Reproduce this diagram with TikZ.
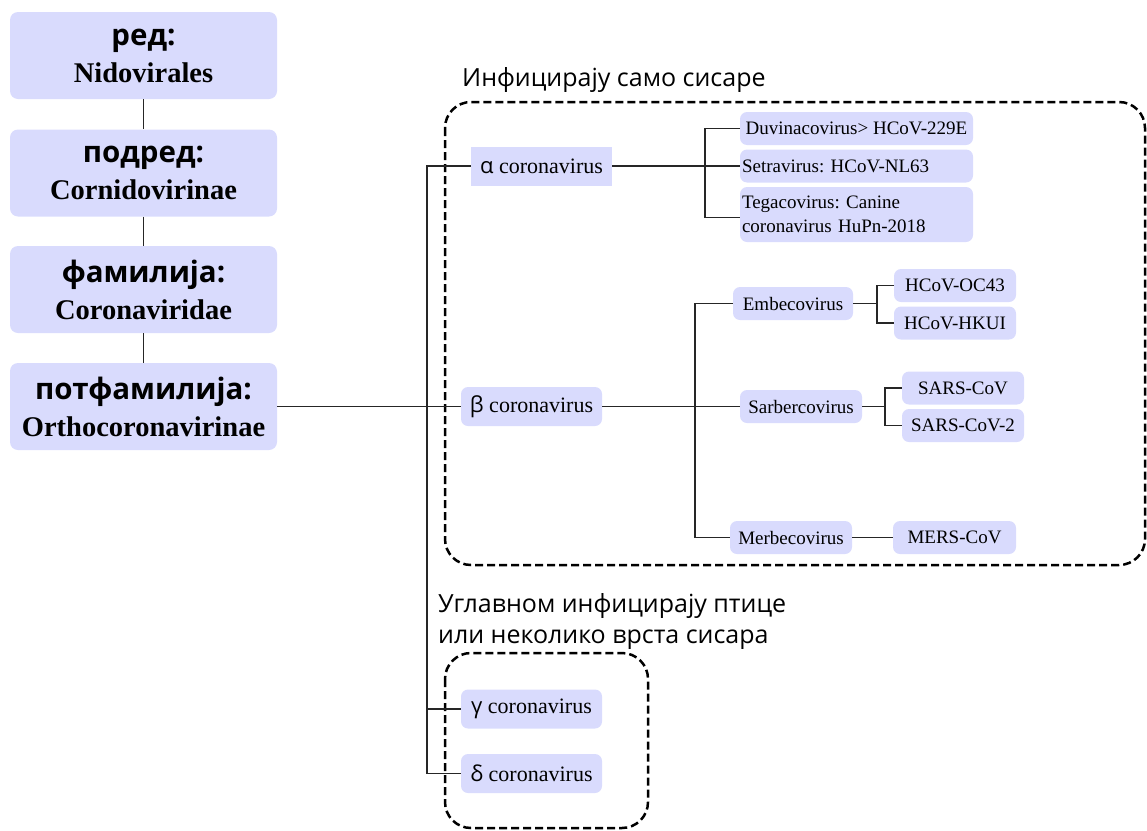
\documentclass[tikz,border=0pt]{standalone}
\usepackage{fontspec}
\setmainfont{Liberation Serif}
\newfontfamily\cyrsans{Open Sans}
\usepackage{tikz}
\usetikzlibrary{positioning,calc}
\definecolor{boxfill}{HTML}{D9DBFD}
\definecolor{linegray}{HTML}{262626}
\frenchspacing

\begin{document}
\begin{tikzpicture}[x=1pt, y=-1pt,
    rankbox/.style={fill=boxfill, rounded corners=8pt, minimum width=267pt, minimum height=87pt,
      inner sep=0pt, align=center, font=\fontsize{28.5}{37}\selectfont\bfseries},
    genbox/.style={fill=boxfill, rounded corners=7pt, minimum width=141pt, minimum height=39pt,
      inner sep=0pt, font=\fontsize{22}{26}\selectfont},
    virbox/.style={fill=boxfill, rounded corners=7pt, minimum height=33pt,
      inner sep=0pt, font=\fontsize{19}{24.5}\selectfont},
    link/.style={draw=linegray, line width=1.6pt},
    groupframe/.style={draw=black, line width=2.5pt, dash pattern=on 8pt off 4pt, rounded corners=26pt},
    grouplabel/.style={font=\cyrsans\fontsize{25}{31}\selectfont, align=left, inner sep=0pt}]
    \useasboundingbox (0,0) rectangle (1147,830);
    % taxonomic ranks
    \node[rankbox] (order) at (143.5,55.5) {{\cyrsans\fontsize{29.5}{30}\selectfont ред:}\\Nidovirales};
    \node[rankbox] (suborder) at (143.5,173) {{\cyrsans\fontsize{29.5}{30}\selectfont подред:}\\Cornidovirinae};
    \node[rankbox] (family) at (143.5,289.5) {{\cyrsans\fontsize{29.5}{30}\selectfont фамилија:}\\Coronaviridae};
    \node[rankbox] (subfamily) at (143.5,406.5) {{\cyrsans\fontsize{29.5}{30}\selectfont потфамилија:}\\Orthocoronavirinae};
    \draw[link] (order) -- (suborder);
    \draw[link] (suborder) -- (family);
    \draw[link] (family) -- (subfamily);
    % group frames
    \draw[groupframe] (445,102) rectangle (1145,565);
    \draw[groupframe] (445,653) rectangle (648,828);
    \node[grouplabel, anchor=west] (mammals) at (462,80) {Инфицирају само сисаре};
    \node[grouplabel, anchor=north west] (birds) at (438,593) {Углавном инфицирају птице\\или неколико врста сисара};
    % genera
    \node[genbox, rounded corners=0pt] (alpha) at (541.5,166) {{\cyrsans α} \rmfamily coronavirus};
    \node[genbox] (beta) at (531.5,406.5) {{\cyrsans β} \rmfamily coronavirus};
    \node[genbox] (gamma) at (531.5,709) {{\cyrsans γ} \rmfamily coronavirus};
    \node[genbox] (delta) at (531.5,773.5) {{\cyrsans δ} \rmfamily coronavirus};
    \coordinate (trunk) at (427,0);
    \draw[link] (alpha.west) -- (alpha.west -| trunk) -- (delta.west -| trunk) -- (delta.west);
    \draw[link] (gamma.west -| trunk) -- (gamma.west);
    \draw[link] (subfamily.east) -- (beta.west);
    % alpha coronavirus
    \node[virbox, minimum width=233pt] (duvina) at (856.5,128.5) {Duvinacovirus> HCoV-229E};
    \node[virbox, minimum width=233pt, text width=229pt, align=left] (setra) at (856.5,166) {Setravirus: HCoV-NL63};
    \node[virbox, minimum width=233pt, minimum height=55pt, text width=229pt, align=left] (tega) at (856.5,214.5) {Tegacovirus: Canine\\coronavirus HuPn-2018};
    \coordinate (afork) at (705,0);
    \draw[link] (alpha.east) -- (setra.west);
    \draw[link] (duvina.west) -- (duvina.west -| afork) -- ([yshift=-3pt]tega.west -| afork) -- ([yshift=-3pt]tega.west);
    % beta coronavirus
    \node[virbox, minimum width=120pt] (embe) at (793,303.5) {Embecovirus};
    \node[virbox, minimum width=122pt] (sarbe) at (801,406.5) {Sarbercovirus};
    \node[virbox, minimum width=122pt] (merbe) at (791,537.5) {Merbecovirus};
    \node[virbox, minimum width=122pt] (oc43) at (955,285.5) {HCoV-OC43};
    \node[virbox, minimum width=122pt] (hkui) at (955,323) {HCoV-HKUI};
    \node[virbox, minimum width=122pt] (sars) at (963,388) {SARS-CoV};
    \node[virbox, minimum width=122pt] (sars2) at (963,425.5) {SARS-CoV-2};
    \node[virbox, minimum width=123pt] (mers) at (954.5,537.5) {MERS-CoV};
    \coordinate (bfork) at (695,0);
    \coordinate (efork) at (877,0);
    \coordinate (sfork) at (885,0);
    \draw[link] (beta.east) -- (sarbe.west);
    \draw[link] (embe.west) -- (embe.west -| bfork) -- (merbe.west -| bfork) -- (merbe.west);
    \draw[link] (embe.east) -- (embe.east -| efork);
    \draw[link] (oc43.west) -- (oc43.west -| efork) -- (hkui.west -| efork) -- (hkui.west);
    \draw[link] (sarbe.east) -- (sarbe.east -| sfork);
    \draw[link] (sars.west) -- (sars.west -| sfork) -- (sars2.west -| sfork) -- (sars2.west);
    \draw[link] (merbe) -- (mers);
\end{tikzpicture}
\end{document}
